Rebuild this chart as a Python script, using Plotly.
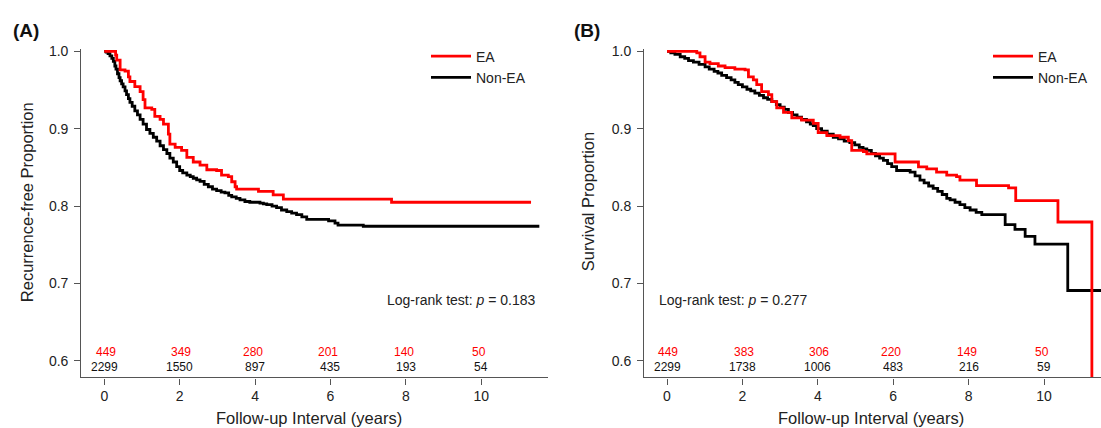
import plotly.graph_objects as go

# ---------------- data ----------------
# Panel A: recurrence-free proportion (step curves: value after each time)
a_ea_t = [0, 0.30, 0.33, 0.42, 0.55, 0.64, 0.68, 0.81, 0.95, 1.03, 1.08, 1.26, 1.34, 1.48, 1.57,
          1.70, 1.74, 1.88, 2.05, 2.19, 2.36, 2.54, 2.72, 2.98, 3.11, 3.29, 3.38, 3.47, 3.51,
          4.09, 4.48, 4.75, 7.62, 11.32]
a_ea_s = [1.0, 0.995, 0.9885, 0.976, 0.9745, 0.967, 0.961, 0.9545, 0.948, 0.9376, 0.927, 0.925,
          0.916, 0.912, 0.906, 0.893, 0.880, 0.876, 0.872, 0.863, 0.857, 0.853, 0.847, 0.846,
          0.840, 0.838, 0.8315, 0.825, 0.822, 0.819, 0.8145, 0.809, 0.805, 0.805]

a_non_t = [0, 0.05, 0.10, 0.15, 0.20, 0.24, 0.28, 0.31, 0.35, 0.39, 0.42, 0.46, 0.50, 0.55, 0.59,
           0.64, 0.68, 0.74, 0.81, 0.88, 0.95, 1.03, 1.12, 1.21, 1.30, 1.39, 1.48, 1.57, 1.66,
           1.74, 1.83, 1.92, 2.00, 2.08, 2.19, 2.28, 2.36, 2.45, 2.54, 2.65, 2.76, 2.87, 2.98,
           3.10, 3.20, 3.30, 3.38, 3.50, 3.60, 3.73, 3.86, 4.13, 4.22, 4.31, 4.45, 4.57, 4.70,
           4.84, 4.97, 5.10, 5.24, 5.37, 5.95, 6.12, 6.20, 6.87, 11.54]
a_non_s = [1.0, 0.999, 0.997, 0.994, 0.991, 0.987, 0.981, 0.977, 0.971, 0.966, 0.962, 0.958,
           0.954, 0.949, 0.944, 0.939, 0.934, 0.929, 0.923, 0.918, 0.912, 0.906, 0.899, 0.894,
           0.889, 0.884, 0.878, 0.873, 0.868, 0.862, 0.857, 0.851, 0.846, 0.843, 0.840, 0.838,
           0.836, 0.834, 0.832, 0.828, 0.825, 0.822, 0.820, 0.818, 0.817, 0.814, 0.812, 0.810,
           0.808, 0.806, 0.805, 0.804, 0.803, 0.802, 0.800, 0.798, 0.795, 0.793, 0.791, 0.789,
           0.786, 0.783, 0.781, 0.778, 0.7755, 0.774, 0.774]

# Panel B: survival proportion
b_ea_t = [0, 0.79, 0.875, 1.01, 1.14, 1.36, 1.54, 1.80, 2.07, 2.16, 2.29, 2.38, 2.51, 2.69, 2.78,
          2.91, 3.09, 3.31, 3.57, 3.88, 4.01, 4.24, 4.59, 4.81, 4.90, 5.21, 5.30, 6.05, 6.67,
          6.89, 7.15, 7.42, 7.68, 7.77, 8.21, 9.06, 9.25, 10.37, 11.27]
b_ea_s = [1.0, 0.998, 0.993, 0.986, 0.984, 0.981, 0.979, 0.977, 0.976, 0.967, 0.963, 0.957,
          0.948, 0.944, 0.935, 0.927, 0.921, 0.914, 0.911, 0.907, 0.895, 0.891, 0.889, 0.8845,
          0.872, 0.8705, 0.8675, 0.857, 0.8506, 0.848, 0.844, 0.840, 0.838, 0.8335, 0.8265,
          0.8235, 0.807, 0.7795, 0.0]

b_non_t = [0, 0.10, 0.21, 0.35, 0.47, 0.57, 0.70, 0.85, 1.01, 1.12, 1.25, 1.35, 1.45, 1.58, 1.70,
           1.80, 1.89, 2.00, 2.12, 2.22, 2.33, 2.45, 2.56, 2.67, 2.78, 2.90, 3.00, 3.11, 3.22,
           3.33, 3.45, 3.57, 3.70, 3.80, 3.88, 3.97, 4.10, 4.25, 4.41, 4.55, 4.70, 4.85, 4.98,
           5.10, 5.20, 5.30, 5.42, 5.53, 5.64, 5.74, 5.85, 5.96, 6.09, 6.45, 6.58, 6.71, 6.82,
           6.94, 7.06, 7.18, 7.30, 7.42, 7.51, 7.64, 7.77, 7.90, 8.04, 8.20, 8.35, 8.97, 9.23,
           9.50, 9.76, 10.63, 11.60]
b_non_s = [1.0, 0.998, 0.996, 0.993, 0.991, 0.988, 0.986, 0.983, 0.980, 0.977, 0.974, 0.972,
           0.969, 0.966, 0.963, 0.960, 0.957, 0.954, 0.951, 0.949, 0.946, 0.943, 0.940, 0.938,
           0.935, 0.931, 0.928, 0.925, 0.921, 0.918, 0.915, 0.912, 0.909, 0.906, 0.904, 0.900,
           0.897, 0.893, 0.889, 0.887, 0.884, 0.882, 0.879, 0.876, 0.874, 0.872, 0.868, 0.865,
           0.862, 0.859, 0.855, 0.851, 0.846, 0.844, 0.839, 0.8335, 0.830, 0.826, 0.823, 0.819,
           0.815, 0.810, 0.808, 0.805, 0.802, 0.798, 0.795, 0.792, 0.789, 0.776, 0.770, 0.761,
           0.751, 0.691, 0.691]

# Numbers at risk
risk_times = [0, 2, 4, 6, 8, 10]
a_risk_ea = [449, 349, 280, 201, 140, 50]
a_risk_non = [2299, 1550, 897, 435, 193, 54]
b_risk_ea = [449, 383, 306, 220, 149, 50]
b_risk_non = [2299, 1738, 1006, 483, 216, 59]

x_ticks = [0, 2, 4, 6, 8, 10]
y_ticks = [0.6, 0.7, 0.8, 0.9, 1.0]

# ---------------- figure ----------------
W, H = 1101, 428
RED = "#FF0000"
BLACK = "#000000"
AXC = "#555555"
FONT = "Liberation Sans, Arial, sans-serif"

def px_x(p):
    return p / W

def px_y(p):
    return 1 - p / H

fig = go.Figure()

fig.add_trace(go.Scatter(x=a_non_t, y=a_non_s, mode="lines", name="Non-EA", legendrank=2,
                         line=dict(color=BLACK, width=2.8, shape="hv"), xaxis="x", yaxis="y",
                         legend="legend"))
fig.add_trace(go.Scatter(x=a_ea_t, y=a_ea_s, mode="lines", name="EA", legendrank=1,
                         line=dict(color=RED, width=2.8, shape="hv"), xaxis="x", yaxis="y",
                         legend="legend"))
fig.add_trace(go.Scatter(x=b_non_t, y=b_non_s, mode="lines", name="Non-EA", legendrank=2,
                         line=dict(color=BLACK, width=2.8, shape="hv"), xaxis="x2", yaxis="y2",
                         legend="legend2"))
fig.add_trace(go.Scatter(x=b_ea_t, y=b_ea_s, mode="lines", name="EA", legendrank=1,
                         line=dict(color=RED, width=2.8, shape="hv"), xaxis="x2", yaxis="y2",
                         legend="legend2"))

axis_common = dict(showline=True, linecolor=AXC, linewidth=1.4, ticks="outside", ticklen=6,
                   tickwidth=1.4, tickcolor=AXC, showgrid=False, zeroline=False,
                   tickfont=dict(size=14, color="#222222", family=FONT))

ydom = [px_y(376.7), px_y(44)]
legend_font = dict(size=14, family=FONT, color="#222222")
fig.update_layout(
    width=W, height=H, margin=dict(l=0, r=0, t=0, b=0),
    paper_bgcolor="white", plot_bgcolor="white",
    font=dict(family=FONT, color="#222222"),
    xaxis=dict(domain=[px_x(81.4), px_x(548)], range=[-0.607, 11.77], tickvals=x_ticks,
               anchor="y", **axis_common),
    yaxis=dict(domain=ydom, range=[0.5787, 1.0025], tickvals=y_ticks, tickformat=".1f",
               anchor="x", ticklabelstandoff=3, **axis_common),
    xaxis2=dict(domain=[px_x(644.2), 1.0], range=[-0.605, 11.512], tickvals=x_ticks,
                anchor="y2", **axis_common),
    yaxis2=dict(domain=ydom, range=[0.5787, 1.0025], tickvals=y_ticks, tickformat=".1f",
                anchor="x2", ticklabelstandoff=3, **axis_common),
    legend=dict(x=px_x(426), y=px_y(35), xanchor="left", yanchor="top", itemwidth=40,
                bgcolor="rgba(0,0,0,0)", font=legend_font),
    legend2=dict(x=px_x(988), y=px_y(35), xanchor="left", yanchor="top", itemwidth=40,
                 bgcolor="rgba(0,0,0,0)", font=legend_font),
    showlegend=True,
)

ann = []
# panel labels
ann.append(dict(text="<b>(A)</b>", x=px_x(26), y=px_y(25), xref="paper", yref="paper",
                showarrow=False, xanchor="center", yanchor="middle",
                font=dict(size=19, color="#111111")))
ann.append(dict(text="<b>(B)</b>", x=px_x(587), y=px_y(25), xref="paper", yref="paper",
                showarrow=False, xanchor="center", yanchor="middle",
                font=dict(size=19, color="#111111")))
# axis titles
ann.append(dict(text="Recurrence-free Proportion", x=px_x(27), y=px_y(199), xref="paper",
                yref="paper", textangle=-90, showarrow=False, xanchor="center",
                yanchor="middle", font=dict(size=16.5)))
ann.append(dict(text="Survival Proportion", x=px_x(588), y=px_y(199), xref="paper",
                yref="paper", textangle=-90, showarrow=False, xanchor="center",
                yanchor="middle", font=dict(size=16.5)))
ann.append(dict(text="Follow-up Interval (years)", x=px_x(309), y=px_y(418), xref="paper",
                yref="paper", showarrow=False, xanchor="center", yanchor="middle",
                font=dict(size=16.5)))
ann.append(dict(text="Follow-up Interval (years)", x=px_x(871), y=px_y(418), xref="paper",
                yref="paper", showarrow=False, xanchor="center", yanchor="middle",
                font=dict(size=16.5)))
# log-rank texts
ann.append(dict(text="Log-rank test: <i>p</i> = 0.183", x=11.5, y=0.679, xref="x", yref="y",
                showarrow=False, xanchor="right", yanchor="middle", font=dict(size=14)))
ann.append(dict(text="Log-rank test: <i>p</i> = 0.277", x=-0.26, y=0.679, xref="x2", yref="y2",
                showarrow=False, xanchor="left", yanchor="middle", font=dict(size=14)))

# numbers at risk
RF = 12
def risk(xref, yref, times, ea, non):
    out = []
    for t, e, n in zip(times, ea, non):
        half = len(str(n)) * 0.556 * RF / 2
        out.append(dict(text=str(n), x=t, y=0.5924, xref=xref, yref=yref, showarrow=False,
                        xanchor="center", yanchor="middle",
                        font=dict(size=RF, color="#111111")))
        out.append(dict(text=str(e), x=t, y=0.6115, xref=xref, yref=yref, showarrow=False,
                        xanchor="right", yanchor="middle", xshift=half,
                        font=dict(size=RF, color=RED)))
    return out

ann += risk("x", "y", risk_times, a_risk_ea, a_risk_non)
ann += risk("x2", "y2", risk_times, b_risk_ea, b_risk_non)

fig.update_layout(annotations=ann)

fig.write_html("out.html", config={"displayModeBar": False},
               post_script="document.body.style.margin='0';document.body.style.overflow='hidden';")
